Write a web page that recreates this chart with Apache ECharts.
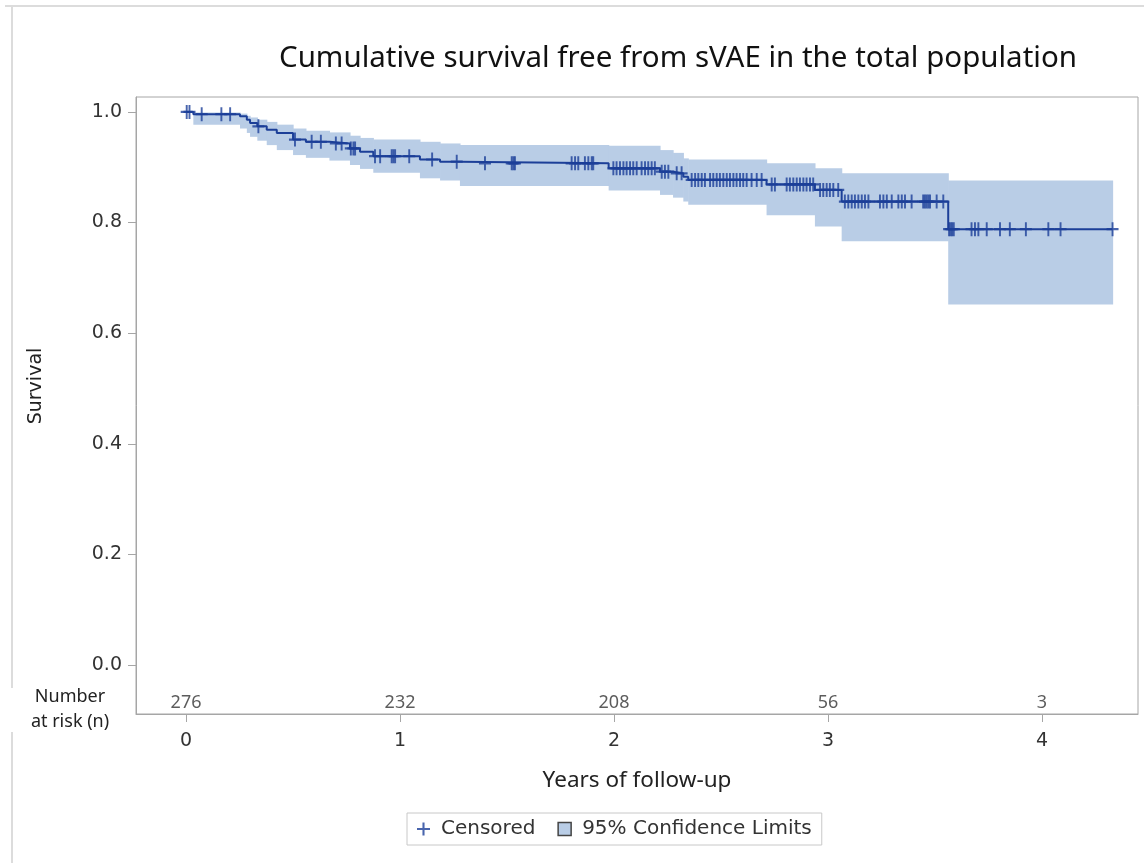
<!DOCTYPE html>
<html>
<head>
<meta charset="utf-8">
<title>Cumulative survival free from sVAE</title>
<script src="https://cdn.jsdelivr.net/npm/echarts@6/dist/echarts.min.js"></script>
<style>
  html, body { margin: 0; padding: 0; background: #fff; }
  #chart { width: 1144px; height: 863px; }
</style>
</head>
<body>
<div id="chart"></div>
<script>
// ---- data ----
const chartTitle = 'Cumulative survival free from sVAE in the total population'

// Kaplan-Meier steps: time (years) where survival drops, and the value after it
const eventTimes = [0, 0.034, 0.252, 0.284, 0.299, 0.333, 0.377, 0.424, 0.50, 0.56, 0.67, 0.766, 0.813, 0.875,
  1.093, 1.187, 1.280, 1.975, 2.215, 2.276, 2.324, 2.347, 2.713, 2.939, 3.064, 3.562]
const survival = [1.0, 0.996, 0.992, 0.986, 0.980, 0.974, 0.968, 0.962, 0.950, 0.946, 0.943, 0.934, 0.928, 0.920,
  0.914, 0.910, 0.907, 0.898, 0.892, 0.889, 0.883, 0.877, 0.869, 0.859, 0.838, 0.788]
const ciLower = [1.0, 0.977, 0.970, 0.962, 0.955, 0.948, 0.940, 0.931, 0.922, 0.917, 0.912, 0.904, 0.897, 0.890,
  0.880, 0.876, 0.866, 0.858, 0.850, 0.845, 0.838, 0.832, 0.813, 0.793, 0.766, 0.652]
const ciUpper = [1.0, 0.999, 0.997, 0.993, 0.990, 0.986, 0.982, 0.977, 0.970, 0.966, 0.963, 0.957, 0.953, 0.950,
  0.946, 0.943, 0.940, 0.939, 0.931, 0.926, 0.916, 0.914, 0.907, 0.898, 0.889, 0.876]
const endTime = 4.33

// censored observations (years)
const censorTimes = [0.003, 0.016, 0.073, 0.165, 0.206, 0.338, 0.509, 0.587, 0.630, 0.700, 0.727, 0.770, 0.782, 0.790,
  0.883, 0.907, 0.961, 0.969, 0.977, 1.043, 1.150, 1.265, 1.397, 1.522, 1.530, 1.537,
  1.802, 1.818, 1.833, 1.864, 1.880, 1.896, 1.903,
  1.997, 2.012, 2.028, 2.044, 2.059, 2.075, 2.090, 2.106, 2.129, 2.145, 2.160, 2.176, 2.191,
  2.223, 2.238, 2.254, 2.293, 2.316,
  2.363, 2.379, 2.394, 2.410, 2.425, 2.449, 2.464, 2.480, 2.495, 2.511, 2.527, 2.542, 2.558, 2.573, 2.589, 2.604,
  2.620, 2.643, 2.667, 2.690,
  2.737, 2.752, 2.807, 2.822, 2.838, 2.854, 2.869, 2.885, 2.900, 2.916, 2.931,
  2.963, 2.978, 2.994, 3.009, 3.025, 3.048,
  3.079, 3.095, 3.111, 3.126, 3.142, 3.158, 3.173, 3.189, 3.243, 3.259, 3.275, 3.298, 3.329, 3.345, 3.360, 3.391,
  3.445, 3.453, 3.461, 3.469, 3.477, 3.508, 3.539,
  3.566, 3.573, 3.580, 3.588, 3.671, 3.687, 3.703, 3.742, 3.804, 3.850, 3.925, 4.030, 4.087, 4.330]

// number at risk row
const riskTimes = [0, 1, 2, 3, 4]
const atRisk = [276, 232, 208, 56, 3]

// tick labels
const xTicks = [0, 1, 2, 3, 4]
const yTicks = [0, 0.2, 0.4, 0.6, 0.8, 1.0]

// ---- styling ----
const lineColor = '#1c3f98'
const bandColor = '#b9cde6'
const axisColor = '#a6a6a6'
const textColor = '#222'
const RISK_ROW_Y = -0.068
const plusPath = 'path://M4.2,0H5.8V4.2H10V5.8H5.8V10H4.2V5.8H0V4.2H4.2Z'

// value of the step curve at time t
function survivalAt(t) {
  let s = survival[0]
  for (let i = 0; i < eventTimes.length; i++) {
    if (eventTimes[i] <= t) s = survival[i]
  }
  return s
}

const last = eventTimes.length - 1
const curveData = eventTimes.map((t, i) => [t, survival[i]]).concat([[endTime, survival[last]]])
// one band piece per step: [start, end, lower, upper]
const bandData = eventTimes.map((t, i) => [t, i < last ? eventTimes[i + 1] : endTime, ciLower[i], ciUpper[i]])
const censorData = censorTimes.map(t => [t, survivalAt(t)])
const riskData = riskTimes.map((t, i) => ({ value: [t, RISK_ROW_Y], n: atRisk[i] }))

const chart = echarts.init(document.getElementById('chart'))

function renderBand(params, api) {
  const p0 = api.coord([api.value(0), api.value(3)])
  const p1 = api.coord([api.value(1), api.value(2)])
  return {
    type: 'rect',
    shape: { x: p0[0], y: p0[1], width: p1[0] - p0[0] + 0.6, height: p1[1] - p0[1] },
    style: { fill: bandColor }
  }
}

const option = {
  animation: false,
  backgroundColor: '#fff',
  grid: {
    left: 136, right: 6, top: 97, bottom: 149,
    show: true, borderColor: axisColor, borderWidth: 1
  },
  xAxis: {
    type: 'value',
    min: -0.234, max: 4.449,
    name: 'Years of follow-up',
    nameLocation: 'middle',
    nameGap: 55,
    nameTextStyle: { fontFamily: 'Noto Sans', fontSize: 22.5, color: textColor },
    axisLine: { show: true, onZero: false, lineStyle: { color: axisColor } },
    axisTick: { show: true, customValues: xTicks, length: 8, lineStyle: { color: axisColor } },
    axisLabel: {
      customValues: xTicks, margin: 18,
      fontFamily: 'DejaVu Sans', fontSize: 19, color: '#333'
    },
    splitLine: { show: false }
  },
  yAxis: {
    type: 'value',
    min: -0.0886, max: 1.027,
    axisLine: { show: true, onZero: false, lineStyle: { color: axisColor } },
    axisTick: { show: true, customValues: yTicks, length: 8, lineStyle: { color: axisColor } },
    axisLabel: {
      customValues: yTicks, margin: 14,
      fontFamily: 'DejaVu Sans', fontSize: 19, color: '#333',
      formatter: v => v.toFixed(1)
    },
    splitLine: { show: false }
  },
  legend: {
    left: 407, top: 813,
    padding: [6, 10, 6, 10],
    borderColor: '#c8c8c8', borderWidth: 1,
    itemGap: 22, itemWidth: 13, itemHeight: 13,
    selectedMode: false,
    textStyle: { fontFamily: 'DejaVu Sans', fontSize: 20, color: '#333', padding: [0, 0, 0, 6] },
    data: [
      { name: 'Censored', icon: plusPath, itemStyle: { color: lineColor } },
      { name: '95% Confidence Limits', icon: 'rect',
        itemStyle: { color: bandColor, borderColor: '#444', borderWidth: 1.5 } }
    ]
  },
  series: [
    {
      name: '95% Confidence Limits',
      type: 'custom',
      renderItem: renderBand,
      encode: { x: [0, 1], y: [2, 3] },
      data: bandData,
      itemStyle: { color: bandColor },
      silent: true,
      z: 1
    },
    {
      name: 'Survival',
      type: 'line',
      step: 'end',
      data: curveData,
      showSymbol: false,
      lineStyle: { color: lineColor, width: 2 },
      z: 3
    },
    {
      name: 'Censored',
      type: 'scatter',
      data: censorData,
      symbol: plusPath,
      symbolSize: [12, 14],
      itemStyle: { color: lineColor },
      z: 4
    },
    {
      name: 'atRisk',
      type: 'scatter',
      data: riskData,
      symbolSize: 0,
      silent: true,
      label: {
        show: true,
        position: 'inside',
        formatter: p => String(p.data.n),
        fontFamily: 'Noto Sans', fontSize: 18, color: '#333'
      },
      z: 5
    }
  ],
  graphic: [
    {
      type: 'text',
      x: 678, y: 59,
      style: {
        text: chartTitle, fontFamily: 'Noto Sans', fontSize: 29.5, fill: '#111',
        align: 'center', verticalAlign: 'middle'
      }
    },
    {
      type: 'text',
      x: 36, y: 386,
      rotation: Math.PI / 2,
      style: {
        text: 'Survival', fontFamily: 'DejaVu Sans', fontSize: 19, fill: textColor,
        align: 'center', verticalAlign: 'middle'
      }
    },
    {
      type: 'text',
      x: 70, y: 709,
      style: {
        text: 'Number\nat risk (n)', fontFamily: 'Noto Sans', fontSize: 18, fill: textColor,
        align: 'center', verticalAlign: 'middle', lineHeight: 25
      }
    },
    // faint frame of the original figure
    { type: 'line', shape: { x1: 5, y1: 6, x2: 1144, y2: 6 }, style: { stroke: '#dcdcdc', lineWidth: 2 } },
    { type: 'line', shape: { x1: 12, y1: 6, x2: 12, y2: 688 }, style: { stroke: '#dcdcdc', lineWidth: 2 } },
    { type: 'line', shape: { x1: 12, y1: 732, x2: 12, y2: 863 }, style: { stroke: '#dcdcdc', lineWidth: 2 } }
  ]
}

chart.setOption(option)
</script>
</body>
</html>
